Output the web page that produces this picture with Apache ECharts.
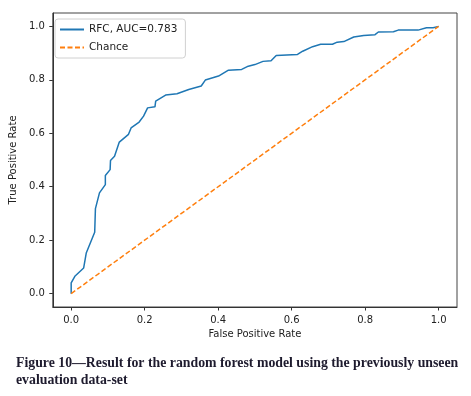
<!DOCTYPE html>
<html>
<head>
<meta charset="utf-8">
<script src="https://cdn.jsdelivr.net/npm/echarts@6/dist/echarts.min.js"></script>
<style>
  html, body { margin: 0; padding: 0; background: #fff; }
  #roc { width: 471px; height: 396px; }
</style>
</head>
<body>
<div id="roc"></div>
<script>
// ROC curve
var fpr = [0, 0, 0.010, 0.034, 0.041, 0.064, 0.066, 0.077, 0.093, 0.093, 0.106, 0.107, 0.118, 0.131,
  0.156, 0.163, 0.185, 0.197, 0.208, 0.228, 0.230, 0.257, 0.288, 0.320, 0.354, 0.365, 0.401,
  0.428, 0.464, 0.482, 0.500, 0.522, 0.544, 0.558, 0.616, 0.630, 0.657, 0.679, 0.711, 0.724,
  0.742, 0.769, 0.796, 0.827, 0.836, 0.877, 0.890, 0.944, 0.967, 0.985, 1.0];
var tpr = [0, 0.040, 0.065, 0.096, 0.152, 0.230, 0.318, 0.377, 0.408, 0.442, 0.464, 0.498, 0.514, 0.567,
  0.596, 0.620, 0.642, 0.664, 0.695, 0.699, 0.720, 0.743, 0.748, 0.764, 0.777, 0.799, 0.814,
  0.836, 0.839, 0.851, 0.857, 0.869, 0.871, 0.891, 0.895, 0.907, 0.924, 0.933, 0.933, 0.941,
  0.943, 0.960, 0.966, 0.969, 0.979, 0.980, 0.986, 0.986, 0.995, 0.995, 1.0];
var chanceX = [0, 1];
var chanceY = [0, 1];
var ticks = [0, 0.2, 0.4, 0.6, 0.8, 1.0];
var caption = 'Figure 10\u2014Result for the random forest model using the previously unseen\nevaluation data-set';

var rocData = fpr.map(function (x, i) { return [x, tpr[i]]; });
var chanceData = chanceX.map(function (x, i) { return [x, chanceY[i]]; });

var chart = echarts.init(document.getElementById('roc'));

var axisCommon = {
    type: 'value',
    min: -0.05,
    max: 1.05,
    nameLocation: 'middle',
    nameTextStyle: { fontFamily: 'DejaVu Sans', fontSize: 10, color: '#222' },
    axisLine: { show: true, onZero: false, lineStyle: { color: '#333', width: 1 } },
    axisTick: { show: true, inside: false, length: 3.5, customValues: ticks, lineStyle: { color: '#333' } },
    axisLabel: {
        customValues: ticks,
        fontFamily: 'DejaVu Sans', fontSize: 10, color: '#222',
        formatter: function (v) { return v.toFixed(1); }
    },
    splitLine: { show: false }
};

chart.setOption({
    animation: false,
    title: {
        text: caption,
        left: 11,
        top: 350,
        textStyle: {
            fontFamily: 'Liberation Serif',
            fontWeight: 'bold',
            fontSize: 13.8,
            lineHeight: 17,
            color: '#1e1b2e'
        }
    },
    grid: {
        left: 51,
        right: 14,
        top: 13,
        bottom: 89,
        show: true,
        borderColor: '#444',
        borderWidth: 1
    },
    legend: {
        orient: 'vertical',
        left: 55,
        top: 19,
        itemWidth: 24,
        itemHeight: 10,
        itemGap: 7,
        padding: [5, 8, 5, 4],
        borderColor: '#d0d0d0',
        borderWidth: 1,
        borderRadius: 3,
        backgroundColor: '#fff',
        itemStyle: { opacity: 0 },
        textStyle: { fontFamily: 'DejaVu Sans', fontSize: 10.5, color: '#222' },
        data: ['RFC, AUC=0.783', 'Chance']
    },
    xAxis: Object.assign({}, axisCommon, { name: 'False Positive Rate', nameGap: 20 }),
    yAxis: Object.assign({}, axisCommon, { name: 'True Positive Rate', nameGap: 32 }),
    series: [
        {
            name: 'RFC, AUC=0.783',
            type: 'line',
            data: rocData,
            symbol: 'none',
            lineStyle: { color: '#1f77b4', width: 1.5 },
            itemStyle: { color: '#1f77b4' }
        },
        {
            name: 'Chance',
            type: 'line',
            data: chanceData,
            symbol: 'none',
            lineStyle: { color: '#ff7f0e', width: 1.5, type: [5, 2.5] },
            itemStyle: { color: '#ff7f0e' }
        }
    ]
});
</script>
</body>
</html>
